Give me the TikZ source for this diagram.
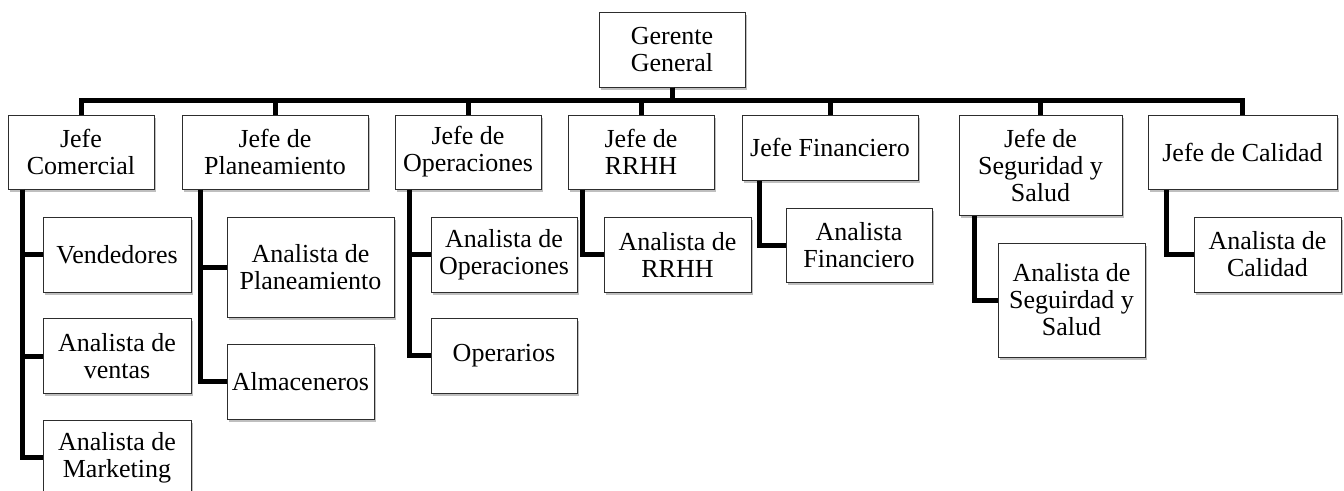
\documentclass[tikz,border=0pt]{standalone}
\usepackage{fontspec}
\setmainfont{Liberation Serif}
\usetikzlibrary{calc, shadows}
\definecolor{colEdge}{RGB}{45,45,45}
\tikzset{
  box/.style  = {draw=colEdge, line width=1pt, fill=white, align=center,
                 inner sep=2pt, minimum width=146pt, minimum height=75pt,
                 font=\fontsize{26}{27}\selectfont,
                 drop shadow={shadow xshift=1.5pt, shadow yshift=-2.5pt,
                              opacity=0.25, fill=black}},
  conn/.style = {line width=5pt, black},
}

\begin{document}
\begin{tikzpicture}[x=1pt, y=1pt]

\useasboundingbox (0,0) rectangle (1344,-490);

%% ── top ─────────────────────────────────────────────────────────────────────
\node[box] (gg) at (672,-49.5) {Gerente\\General};
\coordinate (bus) at (0,-100);

%% ── jefes ───────────────────────────────────────────────────────────────────
\node[box, minimum height=74pt]                      (jcom)  at (81,-152)     {Jefe\\Comercial};
\node[box, minimum width=186pt, minimum height=74pt] (jpla)  at (275,-152)    {Jefe de\\Planeamiento};
\node[box, minimum height=74pt]                      (jope)  at (468,-152)    {Jefe de\\Operaciones};
\node[box, minimum height=74pt]                      (jrrhh) at (641,-152)    {Jefe de\\RRHH};
\node[box, minimum width=176pt, minimum height=65pt] (jfin)  at (830,-147.5)  {Jefe Financiero};
\node[box, minimum width=163pt, minimum height=100pt](jseg)  at (1040.5,-165) {Jefe de\\Seguridad y\\Salud};
\node[box, minimum width=189pt, minimum height=74pt] (jcal)  at (1242.5,-152) {Jefe de Calidad};

%% ── analistas ───────────────────────────────────────────────────────────────
\node[box, minimum width=148pt] (aven) at (117,-254.5) {Vendedores};
\node[box, minimum width=148pt] (avta) at (117,-356)   {Analista de\\ventas};
\node[box, minimum width=148pt] (amkt) at (117,-457.5) {Analista de\\Marketing};

\node[box, minimum width=167pt, minimum height=100pt] (apla) at (310.5,-267) {Analista de\\Planeamiento};
\node[box, minimum width=147pt] (aalm) at (300.5,-381.5) {Almaceneros};

\node[box] (aope)  at (504,-254.5) {Analista de\\Operaciones};
\node[box] (aopr)  at (504,-355.5) {Operarios};

\node[box, minimum width=147pt] (arrhh) at (677.5,-254.5) {Analista de\\RRHH};

\node[box, minimum height=74pt] (afin) at (859,-245) {Analista\\Financiero};

\node[box, minimum width=147pt, minimum height=114pt] (aseg) at (1071.5,-300) {Analista de\\Seguirdad y\\Salud};

\node[box, minimum width=147pt] (acal) at (1267.5,-254.5) {Analista de\\Calidad};

%% ── bus from gerente ────────────────────────────────────────────────────────
\draw[conn] (gg.south) -- (gg.south |- bus) -| (jcom.north);
\draw[conn] (gg.south) -- (gg.south |- bus) -| (jpla.north);
\draw[conn] (gg.south) -- (gg.south |- bus) -| (jope.north);
\draw[conn] (gg.south) -- (gg.south |- bus) -| (jrrhh.north);
\draw[conn] (gg.south) -- (gg.south |- bus) -| (jfin.north);
\draw[conn] (gg.south) -- (gg.south |- bus) -| (jseg.north);
\draw[conn] (gg.south) -- (gg.south |- bus) -| (jcal.north);

%% ── spines under each jefe ──────────────────────────────────────────────────
\coordinate (scom)  at ($(jcom.south west)!0.1!(jcom.south east)$);
\coordinate (spla)  at ($(jpla.south west)!0.1!(jpla.south east)$);
\coordinate (sope)  at ($(jope.south west)!0.1!(jope.south east)$);
\coordinate (srrhh) at ($(jrrhh.south west)!0.1!(jrrhh.south east)$);
\coordinate (sfin)  at ($(jfin.south west)!0.1!(jfin.south east)$);
\coordinate (sseg)  at ($(jseg.south west)!0.1!(jseg.south east)$);
\coordinate (scal)  at ($(jcal.south west)!0.1!(jcal.south east)$);

\draw[conn] (scom)  |- (aven.west);
\draw[conn] (scom)  |- (avta.west);
\draw[conn] (scom)  |- (amkt.west);
\draw[conn] (spla)  |- (apla.west);
\draw[conn] (spla)  |- (aalm.west);
\draw[conn] (sope)  |- (aope.west);
\draw[conn] (sope)  |- (aopr.west);
\draw[conn] (srrhh) |- (arrhh.west);
\draw[conn] (sfin)  |- (afin.west);
\draw[conn] (sseg)  |- (aseg.west);
\draw[conn] (scal)  |- (acal.west);

\end{tikzpicture}
\end{document}
